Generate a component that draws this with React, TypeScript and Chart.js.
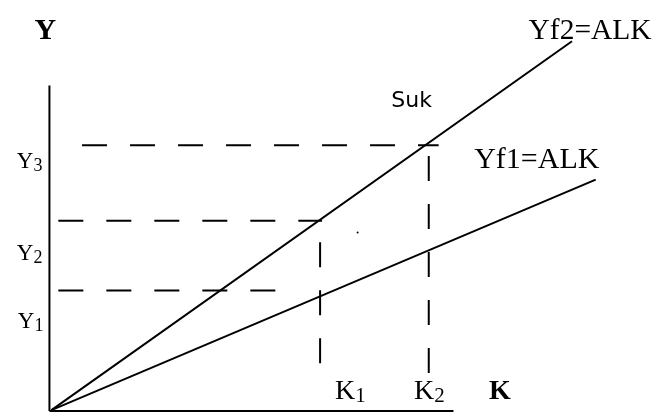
import React, { useEffect, useRef } from "react";
import { Chart, registerables } from "chart.js";

Chart.register(...registerables);

// ---- Data (diagram units) ----
const levelNames = ["Y1", "Y2", "Y3"];
const levelValues = [12.2, 19.3, 27.0];
const levelStarts = [0.7, 0.7, 3.1];
const levelEnds = [24.9, 27.4, 39.2];

const capitalNames = ["K1", "K2"];
const capitalValues = [27.2, 38.2];
const capitalTops = [17.1, 25.9];
const capitalBottoms = [2.6, 2.1];

const yf1Line = [
  { x: 0, y: 0 },
  { x: 55.1, y: 23.5 },
];
const yf2Line = [
  { x: 0, y: 0 },
  { x: 52.7, y: 37.6 },
];

const yAxisLine = [
  { x: -0.2, y: -0.1 },
  { x: -0.2, y: 33.1 },
];
const xAxisLine = [
  { x: -0.2, y: -0.1 },
  { x: 40.7, y: -0.1 },
];

const markerDot = [{ x: 31.0, y: 18.1 }];

// ---- Label placement (diagram units) ----
const SERIF = "'Liberation Serif', 'Times New Roman', serif";
const levelLabelPos = [
  { x: -3.4, y: 8.4 },
  { x: -3.5, y: 15.3 },
  { x: -3.5, y: 24.7 },
];
const capitalLabelPos = [
  { x: 28.7, y: 1.1 },
  { x: 36.7, y: 1.1 },
];

type TextLabel = {
  text: string;
  sub?: string;
  x: number;
  y: number;
  font: string;
  subFont?: string;
};

const textLabels: TextLabel[] = [
  { text: "Y", x: -1.7, y: 37.8, font: `bold 30px ${SERIF}` },
  { text: "K", x: 44.3, y: 1.1, font: `bold 28px ${SERIF}` },
  { text: "Yf2=ALK", x: 48.3, y: 37.8, font: `29.5px ${SERIF}` },
  { text: "Yf1=ALK", x: 42.8, y: 24.7, font: `30px ${SERIF}` },
  { text: "Suk", x: 34.4, y: 30.9, font: `22px 'DejaVu Sans', sans-serif` },
  ...levelNames.map((n, i) => ({
    text: n.charAt(0),
    sub: n.slice(1),
    x: levelLabelPos[i].x,
    y: levelLabelPos[i].y,
    font: `23px ${SERIF}`,
    subFont: `18px ${SERIF}`,
  })),
  ...capitalNames.map((n, i) => ({
    text: n.charAt(0),
    sub: n.slice(1),
    x: capitalLabelPos[i].x,
    y: capitalLabelPos[i].y,
    font: `28px ${SERIF}`,
    subFont: `21px ${SERIF}`,
  })),
];

const textPlugin = {
  id: "diagramText",
  afterDatasetsDraw(chart: any) {
    const { ctx, scales } = chart;
    ctx.save();
    ctx.fillStyle = "#000";
    ctx.textAlign = "left";
    ctx.textBaseline = "alphabetic";
    for (const l of textLabels) {
      const px = scales.x.getPixelForValue(l.x);
      const py = scales.y.getPixelForValue(l.y);
      ctx.font = l.font;
      ctx.fillText(l.text, px, py);
      if (l.sub) {
        const w = ctx.measureText(l.text).width;
        ctx.font = l.subFont || l.font;
        ctx.fillText(l.sub, px + w, py + 3);
      }
    }
    ctx.restore();
  },
};

const DASH = [25, 23];

export default function App() {
  const canvasRef = useRef<HTMLCanvasElement | null>(null);

  useEffect(() => {
    document.body.style.margin = "0";
    const canvas = canvasRef.current;
    if (!canvas) return;

    const solid = (data: { x: number; y: number }[]) => ({
      data,
      showLine: true,
      borderColor: "#000",
      borderWidth: 2,
      pointRadius: 0,
      fill: false,
    });
    const dashed = (data: { x: number; y: number }[]) => ({
      ...solid(data),
      borderDash: DASH,
      borderCapStyle: "butt" as const,
    });

    const datasets: any[] = [
      solid(yAxisLine),
      solid(xAxisLine),
      solid(yf1Line),
      solid(yf2Line),
      ...levelValues.map((v, i) =>
        dashed([
          { x: levelStarts[i], y: v },
          { x: levelEnds[i], y: v },
        ])
      ),
      ...capitalValues.map((v, i) =>
        dashed([
          { x: v, y: capitalTops[i] },
          { x: v, y: capitalBottoms[i] },
        ])
      ),
      {
        data: markerDot,
        showLine: false,
        pointRadius: 1,
        pointBackgroundColor: "#000",
        pointBorderWidth: 0,
      },
    ];

    const chart = new Chart(canvas, {
      type: "scatter",
      data: { datasets },
      options: {
        animation: false,
        responsive: false,
        devicePixelRatio: 1,
        layout: { padding: 0 },
        plugins: {
          legend: { display: false },
          tooltip: { enabled: false },
        },
        scales: {
          x: { type: "linear", min: -4.8, max: 60.8, display: false },
          y: { type: "linear", min: -0.4, max: 41.4, display: false },
        },
      },
      plugins: [textPlugin],
    });

    return () => chart.destroy();
  }, []);

  return (
    <canvas
      ref={canvasRef}
      width={656}
      height={418}
      style={{ display: "block", width: 656, height: 418, background: "#fff" }}
    />
  );
}
